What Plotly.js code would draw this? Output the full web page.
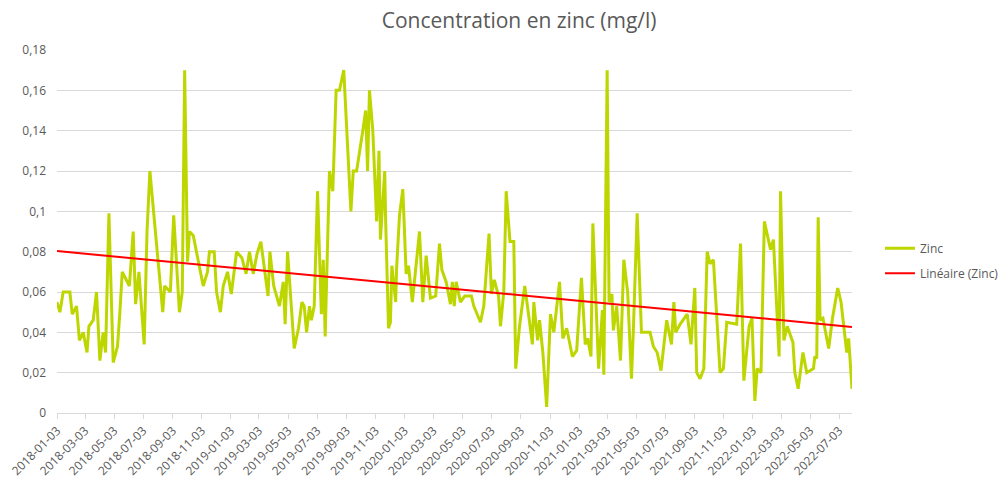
<!DOCTYPE html>
<html>
<head>
<meta charset="utf-8">
<script src="https://cdn.plot.ly/plotly-3.0.1.min.js"></script>
<style>html,body{margin:0;padding:0;background:#fff;}#chart{width:1008px;height:481px;}</style>
</head>
<body>
<div id="chart"></div>
<script>
// Sampling days counted from the first sample date
const startDate = '2018-01-03';
const sampleDays = [0,6,13,27,32,41,47,55,63,67,
76,83,90,97,102,109,118,127,132,137,
152,160,165,172,183,189,195,211,222,226,
238,245,257,263,268,274,278,286,307,316,
320,330,335,343,349,358,366,377,388,397,
404,412,420,428,443,447,455,467,475,479,
484,498,507,514,519,524,530,534,540,547,
555,559,563,572,579,586,593,602,617,622,
629,642,648,652,656,663,671,676,679,688,
690,696,700,703,711,713,719,726,733,738,
746,761,768,775,784,795,803,808,817,826,
830,834,838,847,856,870,875,889,896,907,
912,918,927,931,938,943,951,959,963,971,
982,991,998,1001,1009,1013,1020,1028,1036,1043,
1050,1055,1062,1070,1082,1091,1101,1109,1114,1121,
1125,1137,1145,1148,1155,1159,1165,1168,1175,1183,
1190,1198,1206,1210,1218,1227,1245,1252,1260,1268,
1280,1290,1295,1299,1308,1323,1331,1339,1343,1350,
1358,1365,1371,1378,1392,1399,1406,1427,1435,1442,
1453,1459,1465,1470,1478,1485,1498,1504,1516,1519,
1526,1533,1545,1549,1556,1566,1574,1588,1591,1595,
1598,1602,1608,1620,1628,1639,1646,1653,1658,1662,
1669];
// Zinc concentration (mg/l)
const zinc = [0.055,0.050,0.060,0.060,0.049,0.053,0.036,0.040,0.030,0.043,
0.046,0.060,0.026,0.040,0.030,0.099,0.025,0.033,0.050,0.070,
0.063,0.090,0.054,0.070,0.034,0.090,0.120,0.079,0.050,0.063,
0.060,0.098,0.050,0.060,0.170,0.075,0.090,0.088,0.063,0.070,
0.080,0.080,0.060,0.050,0.063,0.070,0.059,0.080,0.077,0.069,
0.080,0.069,0.079,0.085,0.058,0.080,0.063,0.053,0.065,0.044,
0.080,0.032,0.042,0.055,0.053,0.040,0.053,0.046,0.053,0.110,
0.049,0.076,0.038,0.120,0.110,0.160,0.160,0.170,0.100,0.120,
0.120,0.140,0.150,0.120,0.160,0.140,0.095,0.130,0.086,0.120,
0.095,0.042,0.045,0.073,0.055,0.072,0.098,0.111,0.069,0.073,
0.055,0.090,0.055,0.078,0.057,0.058,0.084,0.071,0.065,0.054,
0.065,0.053,0.065,0.055,0.058,0.058,0.053,0.045,0.053,0.089,
0.059,0.066,0.058,0.043,0.060,0.110,0.085,0.085,0.022,0.043,
0.063,0.047,0.034,0.055,0.036,0.046,0.030,0.003,0.049,0.040,
0.055,0.065,0.037,0.042,0.028,0.031,0.067,0.034,0.037,0.028,
0.094,0.022,0.051,0.019,0.170,0.055,0.059,0.041,0.053,0.026,
0.076,0.060,0.017,0.041,0.099,0.040,0.040,0.033,0.030,0.021,
0.046,0.034,0.055,0.040,0.044,0.049,0.034,0.062,0.020,0.017,
0.022,0.080,0.074,0.076,0.020,0.022,0.045,0.044,0.084,0.016,
0.043,0.047,0.006,0.022,0.020,0.095,0.081,0.086,0.028,0.110,
0.036,0.043,0.035,0.020,0.012,0.030,0.020,0.022,0.028,0.027,
0.097,0.046,0.047,0.032,0.047,0.062,0.055,0.041,0.030,0.037,
0.012];
// Linear trend values at first and last sample
const trendValues = [0.0803, 0.0427];
const seriesName = 'Zinc';
const trendName = 'Linéaire (Zinc)';
const chartTitle = 'Concentration en zinc (mg/l)';

const t0 = Date.UTC(2018, 0, 3);
const toDate = d => new Date(t0 + d * 86400000).toISOString().slice(0, 10);
const dates = sampleDays.map(toDate);
const n = sampleDays.length;
const trendX = [dates[0], dates[n-1]];

const FONT = '"Open Sans", Calibri, sans-serif';
const grey = '#595959';

const traces = [
  {x: dates, y: zinc, type: 'scatter', mode: 'lines', name: seriesName, legendgroup: 'a',
   line: {color: '#bed600', width: 3, shape: 'linear'}},
  {x: trendX, y: trendValues, type: 'scatter', mode: 'lines', name: trendName, legendgroup: 'b',
   line: {color: '#ff0000', width: 2}}
];

const layout = {
  width: 1008, height: 481,
  margin: {l: 57, r: 156, t: 50, b: 68, autoexpand: false},
  paper_bgcolor: '#ffffff', plot_bgcolor: '#ffffff',
  separators: ', ',
  font: {family: FONT, color: grey, size: 12},
  title: {text: chartTitle, x: 0.515, xanchor: 'center', y: 0.957, yanchor: 'middle',
          font: {family: FONT, size: 21, color: grey, weight: 400}},
  showlegend: true,
  legend: {xref: 'container', yref: 'container', x: 0.873, xanchor: 'left', y: 0.514, yanchor: 'top',
           traceorder: 'grouped', tracegroupgap: 6,
           font: {family: FONT, size: 12, color: grey}, bgcolor: 'rgba(0,0,0,0)'},
  xaxis: {
    type: 'date', range: [dates[0], dates[n-1]],
    tick0: startDate, dtick: 'M2', tickformat: '%Y-%m-%d', tickangle: -45,
    showgrid: false, zeroline: false, showline: true, linecolor: '#d9d9d9', linewidth: 1,
    ticks: 'outside', ticklen: 5, tickcolor: '#d9d9d9',
    tickfont: {family: FONT, size: 12, color: grey}
  },
  yaxis: {
    range: [0, 0.18], dtick: 0.02, tick0: 0,
    showgrid: true, gridcolor: '#d9d9d9', gridwidth: 1, zeroline: false,
    showline: false, ticks: '', ticklabelstandoff: 10,
    tickfont: {family: FONT, size: 12, color: grey}
  }
};

Plotly.newPlot('chart', traces, layout, {displayModeBar: false, staticPlot: true});
</script>
</body>
</html>
